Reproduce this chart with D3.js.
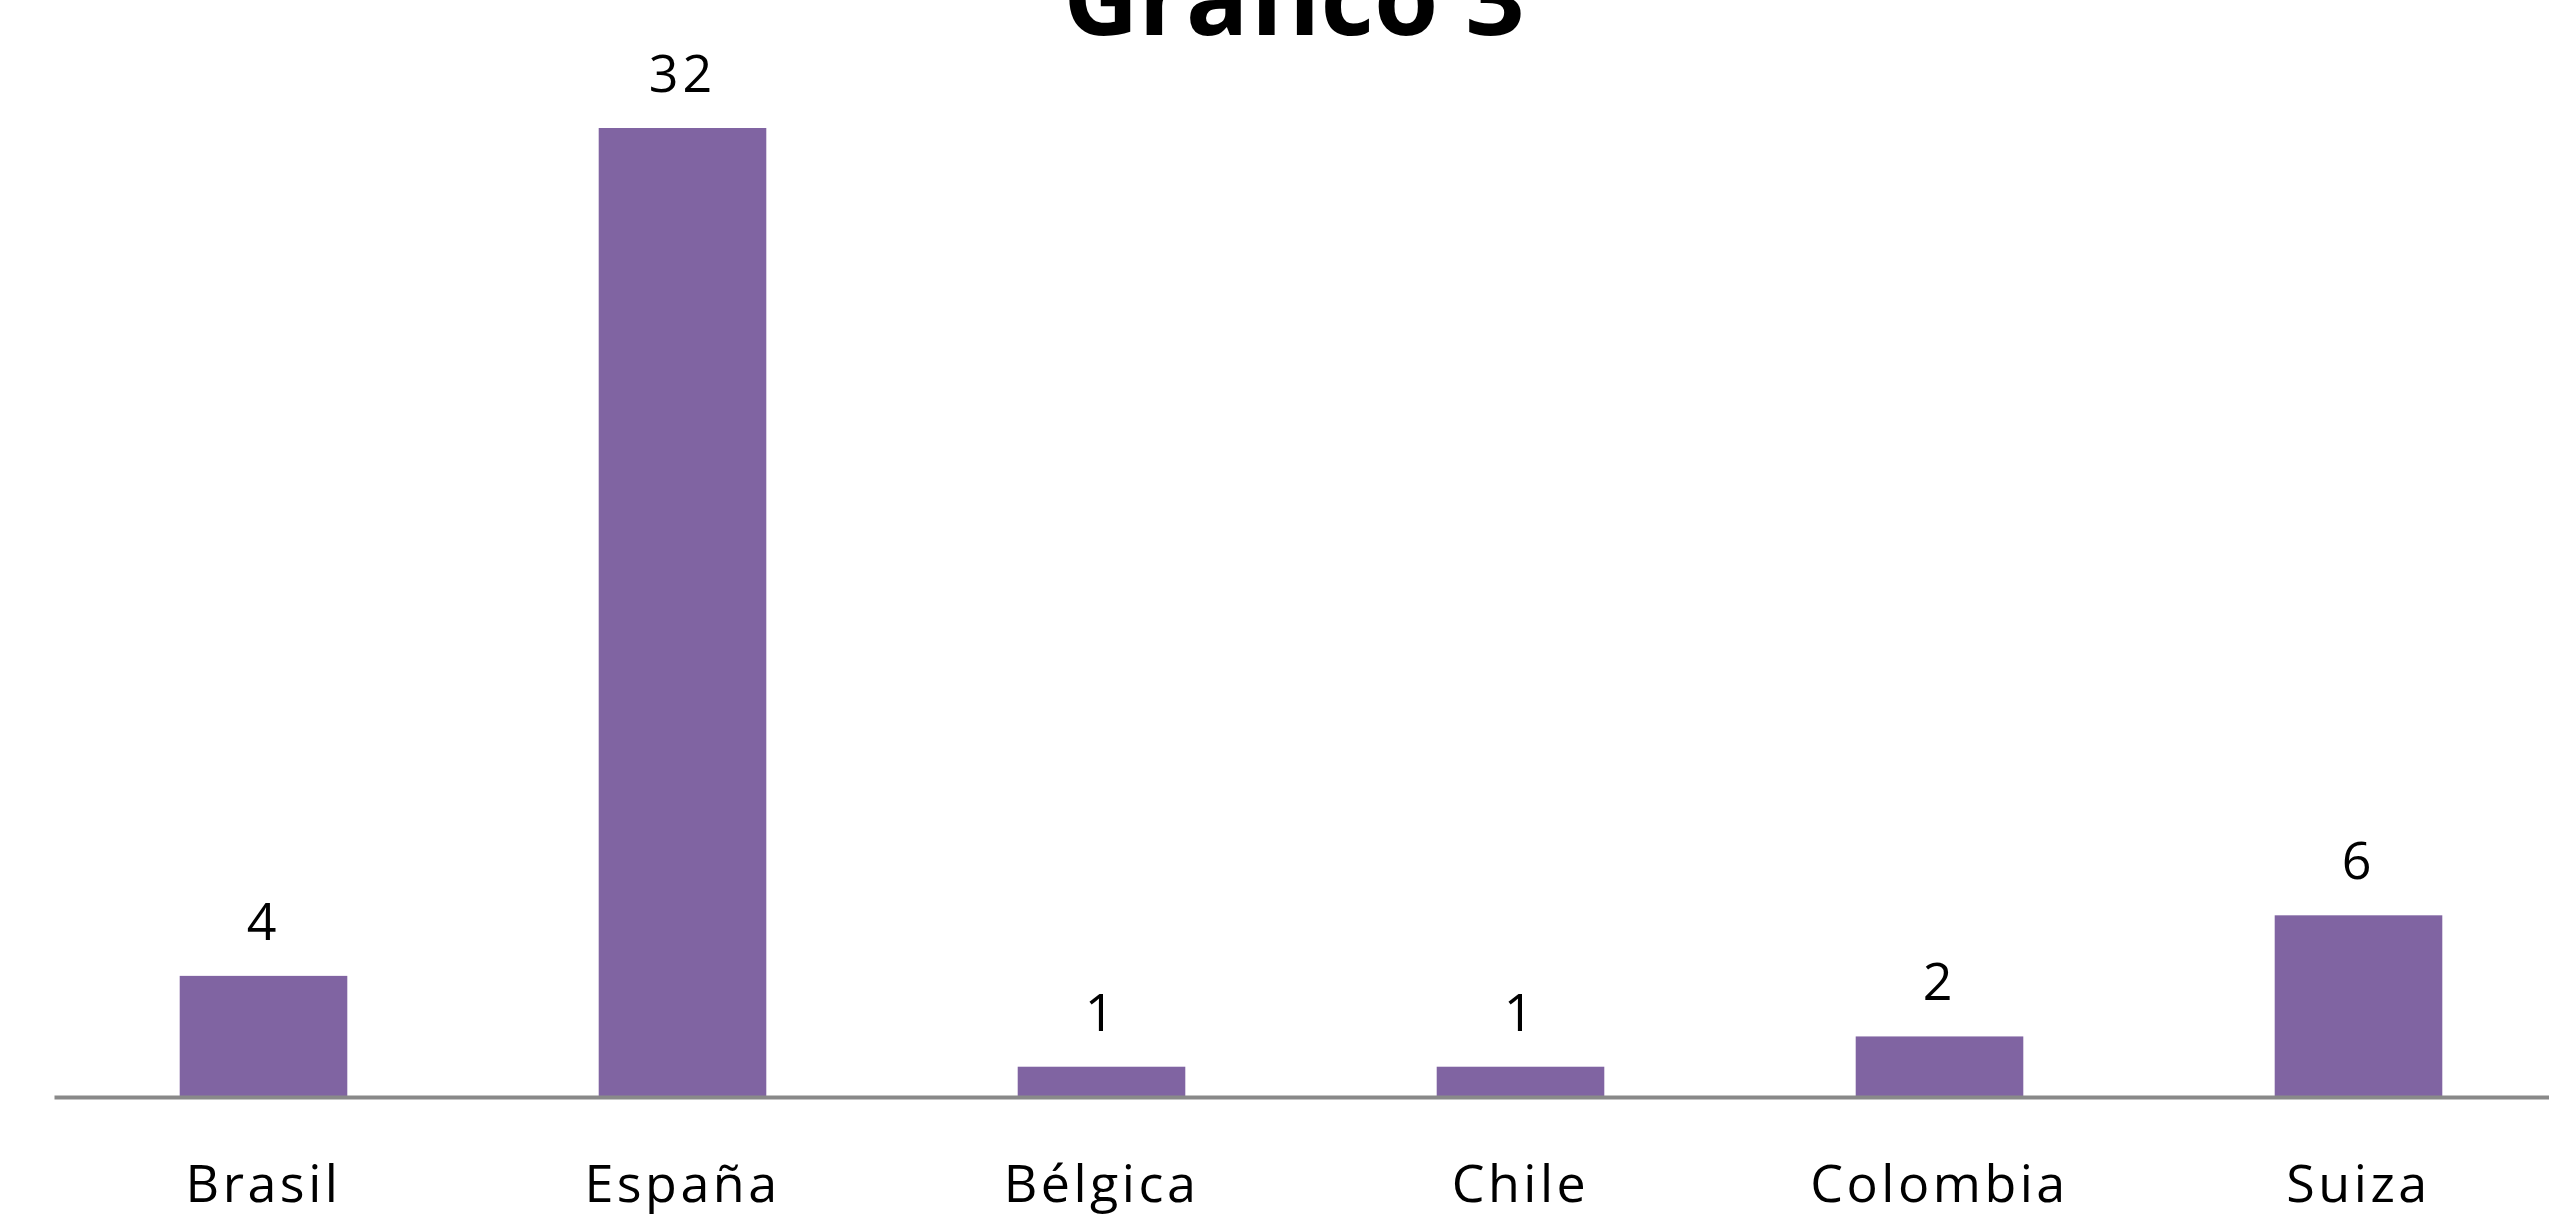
<!DOCTYPE html>
<html>
<head>
<meta charset="utf-8">
<script src="https://cdn.jsdelivr.net/npm/d3@7"></script>
<style>
  html, body { margin: 0; padding: 0; background: #fff; overflow: hidden; }
  text { font-family: "Open Sans", "Noto Sans", sans-serif; }
</style>
</head>
<body>
<div id="chart-container"></div>
<script>
// data
let title = "Grafico 3";
let countries = ["Brasil", "España", "Bélgica", "Chile", "Colombia", "Suiza"];
let counts = [4, 32, 1, 1, 2, 6];

// vars
let w = 2549;
let h = 1215;
let barColour = "#8064a2";
let axisColour = "#898989";

let svg = d3.select("#chart-container")
  .append("svg")
  .attr("width", w)
  .attr("height", h)
  .attr("viewBox", "0 0 " + w + " " + h);

// scales
let scaleX = d3.scaleBand()
  .domain(countries)
  .range([54, 2568])
  .paddingInner(0.6)
  .paddingOuter(0.3);

let scaleY = d3.scaleLinear()
  .domain([0, 32])
  .range([1097, 128]);

// title (top is cut off, as in the original)
svg.append("text")
  .attr("x", 1294)
  .attr("y", 35)
  .text(title)
  .style("text-anchor", "middle")
  .style("font-size", "104px")
  .style("font-weight", "bold")
  .style("fill", "#000");

// bars
svg.append("g").selectAll("rect").data(countries).enter().append("rect")
  .attr("x", d => scaleX(d))
  .attr("y", (d, i) => scaleY(counts[i]))
  .attr("width", scaleX.bandwidth())
  .attr("height", (d, i) => scaleY(0) - scaleY(counts[i]))
  .attr("fill", barColour);

// value labels
svg.append("g").selectAll("text").data(countries).enter().append("text")
  .attr("x", d => scaleX(d) + scaleX.bandwidth() / 2)
  .attr("y", (d, i) => scaleY(counts[i]) - 36)
  .text((d, i) => counts[i])
  .style("text-anchor", "middle")
  .style("font-size", "52px")
  .style("letter-spacing", "4px")
  .style("fill", "#000");

// x axis
let xAxis = svg.append("g")
  .attr("transform", "translate(0," + scaleY(0) + ")")
  .call(d3.axisBottom(scaleX).tickSize(0));

xAxis.select(".domain")
  .attr("stroke", axisColour)
  .attr("stroke-width", 4);

xAxis.selectAll("text")
  .attr("dy", 0)
  .attr("y", 105)
  .style("font-size", "52px")
  .style("letter-spacing", "3.5px")
  .style("fill", "#000");
</script>
</body>
</html>
